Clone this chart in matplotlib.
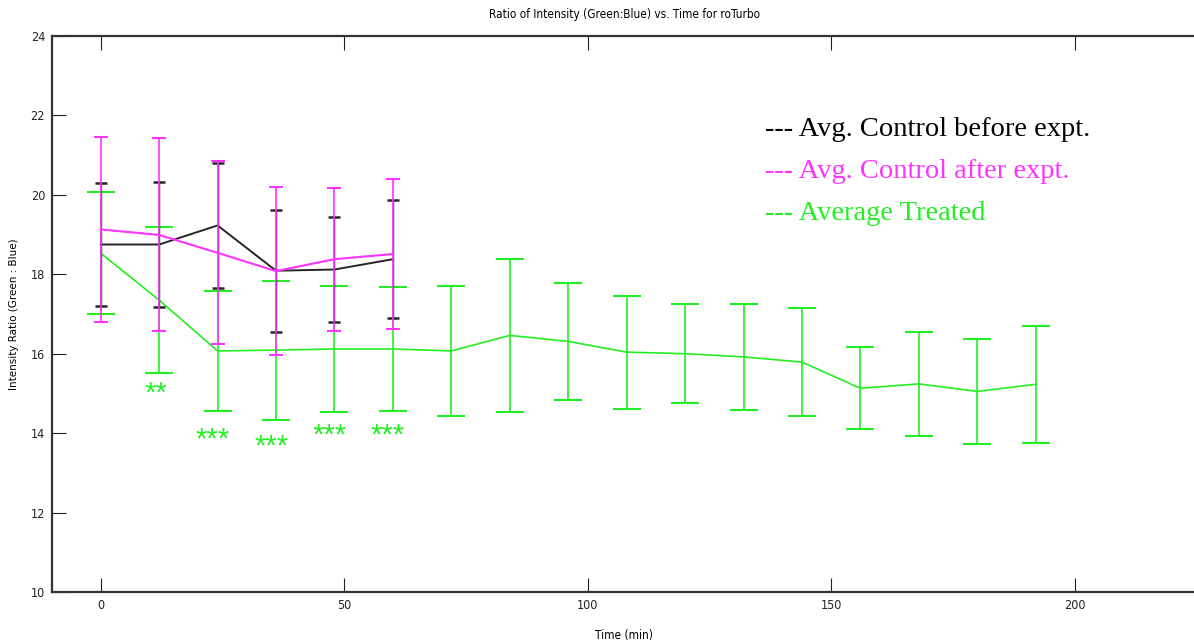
import matplotlib
matplotlib.use("Agg")
import matplotlib.pyplot as plt
from matplotlib import font_manager

# ---- data ----
time_ctrl = [0, 12, 24, 36, 48, 60]
before_mean = [18.75, 18.75, 19.23, 18.09, 18.12, 18.38]
before_err = [1.54, 1.58, 1.58, 1.54, 1.31, 1.48]
after_mean = [19.13, 18.99, 18.54, 18.08, 18.38, 18.51]
after_err = [2.33, 2.43, 2.30, 2.12, 1.80, 1.90]

time_treat = [0, 12, 24, 36, 48, 60, 72, 84, 96, 108, 120, 132, 144, 156, 168, 180, 192]
treat_mean = [18.53, 17.35, 16.07, 16.09, 16.12, 16.12, 16.07, 16.46, 16.31, 16.04,
              16.00, 15.92, 15.79, 15.13, 15.24, 15.05, 15.23]
treat_err = [1.54, 1.83, 1.52, 1.75, 1.59, 1.55, 1.63, 1.92, 1.48, 1.42,
             1.25, 1.33, 1.37, 1.03, 1.30, 1.33, 1.48]

star_labels = ["**", "***", "***", "***", "***"]
star_x = [11.3, 23.0, 35.0, 47.0, 59.0]
star_y = [15.0, 13.85, 13.65, 13.95, 13.95]

xticks = [0, 50, 100, 150, 200]
yticks = [10, 12, 14, 16, 18, 20, 22, 24]

legend_labels = ["--- Avg. Control before expt.", "--- Avg. Control after expt.", "--- Average Treated"]

BLACK = "#000000"
MAGENTA = "#ff33ff"
GREEN = "#22ee22"

names = {f.name for f in font_manager.fontManager.ttflist}
narrow = "Liberation Sans Narrow" if "Liberation Sans Narrow" in names else "DejaVu Sans"
stretch = "normal" if narrow == "Liberation Sans Narrow" else "condensed"

fig = plt.figure(figsize=(11.94, 6.42), dpi=100)
ax = fig.add_axes([52 / 1194, 1 - 592 / 642, 1 - 52 / 1194 + 0.002, (592 - 36) / 642])

ax.errorbar(time_treat, treat_mean, yerr=treat_err, color=GREEN, lw=1.2,
            capsize=10, capthick=1.5, elinewidth=1.2, zorder=2)
ax.errorbar(time_ctrl, before_mean, yerr=before_err, color=BLACK, lw=1.4,
            capsize=4, capthick=1.8, elinewidth=1.0, zorder=3, alpha=0.85)
ax.errorbar(time_ctrl, after_mean, yerr=after_err, color=MAGENTA, lw=1.5,
            capsize=5, capthick=1.5, elinewidth=1.2, zorder=4)

for s, sx, sy in zip(star_labels, star_x, star_y):
    ax.text(sx, sy, s, color=GREEN, fontsize=21, ha="center", va="center",
            family="Liberation Sans")

ax.set_xlim(-10, 225)
ax.set_ylim(10, 24)
ax.set_xticks(xticks)
ax.set_yticks(yticks)
ax.tick_params(direction="in", length=10, width=0.8, top=True, right=False,
               labelsize=9, pad=5, colors="#222222")
for lab in ax.get_xticklabels() + ax.get_yticklabels():
    lab.set_family(narrow)
    lab.set_stretch(stretch)
for sp in ax.spines.values():
    sp.set_linewidth(1.6)
    sp.set_color("#333333")

ax.set_title("Ratio of Intensity (Green:Blue) vs. Time for roTurbo", fontsize=8.5,
             family=narrow, fontstretch=stretch, pad=13)
ax.set_xlabel("Time (min)", fontsize=8.5, family=narrow, fontstretch=stretch, labelpad=12)
ax.set_ylabel("Intensity Ratio (Green : Blue)", fontsize=7.5, family="DejaVu Sans",
              labelpad=8)

legend_colors = [BLACK, MAGENTA, GREEN]
legend_y = [130, 171, 213]
for lab, c, py in zip(legend_labels, legend_colors, legend_y):
    fig.text(765 / 1194, 1 - py / 642, lab, color=c, fontsize=20.5, va="center",
             ha="left", family="Liberation Serif")

fig.savefig("out.png", dpi=100)
